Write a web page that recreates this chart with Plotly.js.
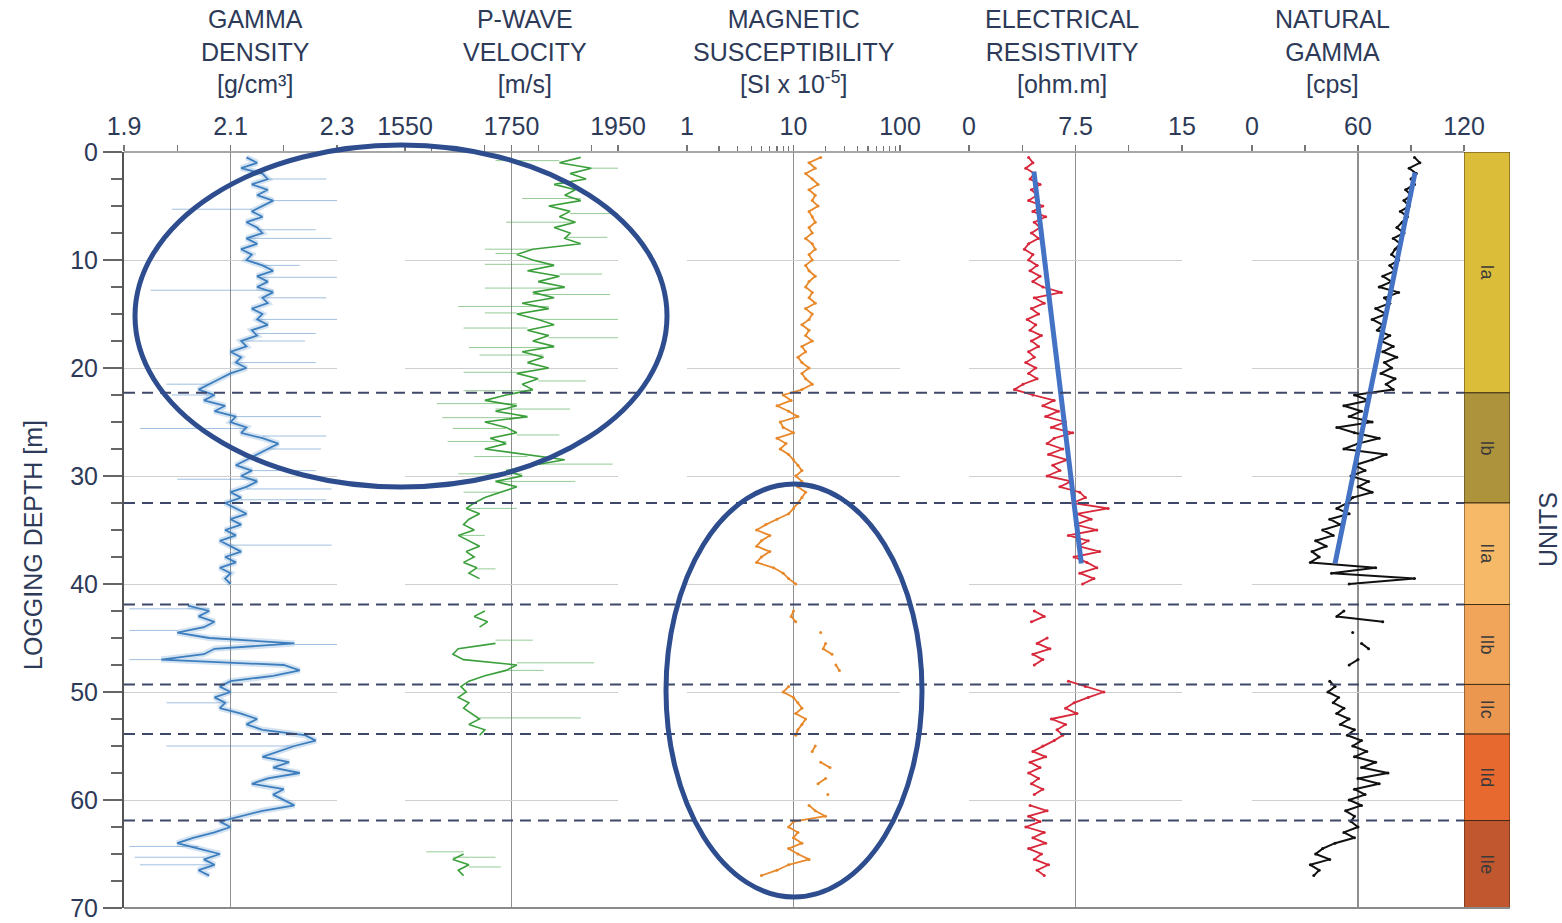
<!DOCTYPE html>
<html><head><meta charset="utf-8">
<script src="https://cdn.plot.ly/plotly-3.0.1.min.js"></script>
<style>html,body{margin:0;padding:0;background:#fff}#chart{width:1562px;height:923px}</style>
</head><body><div id="chart"></div>
<script>
// Depth samples (m)
const depth = [
 0.5,1,1.5,2,2.5,3,3.5,4,4.5,5,
 5.5,6,6.5,7,7.5,8,8.5,9,9.5,10,
 10.5,11,11.5,12,12.5,13,13.5,14,14.5,15,
 15.5,16,16.5,17,17.5,18,18.5,19,19.5,20,
 20.5,21,21.5,22,22.5,23,23.5,24,24.5,25,
 25.5,26,26.5,27,27.5,28,28.5,29,29.5,30,
 30.5,31,31.5,32,32.5,33,33.5,34,34.5,35,
 35.5,36,36.5,37,37.5,38,38.5,39,39.5,40,
 40.5,41,41.5,42,42.5,43,43.5,44,44.5,45,
 45.5,46,46.5,47,47.5,48,48.5,49,49.5,50,
 50.5,51,51.5,52,52.5,53,53.5,54,54.5,55,
 55.5,56,56.5,57,57.5,58,58.5,59,59.5,60,
 60.5,61,61.5,62,62.5,63,63.5,64,64.5,65,
 65.5,66,66.5,67,67.5];

// Gamma density [g/cm3]
const gammaDensity = [
 2.13,2.15,2.12,2.16,2.17,2.14,2.17,2.15,2.18,2.16,
 2.14,2.16,2.13,2.15,2.16,2.13,2.15,2.12,2.14,2.13,
 2.16,2.18,2.15,2.17,2.15,2.18,2.16,2.17,2.14,2.16,
 2.15,2.17,2.14,2.15,2.12,2.13,2.10,2.12,2.11,2.13,
 2.10,2.08,2.06,2.04,2.07,2.05,2.09,2.07,2.11,2.10,
 2.13,2.12,2.16,2.19,2.17,2.15,2.13,2.11,2.14,2.12,
 2.15,2.13,2.10,2.12,2.09,2.11,2.13,2.10,2.12,2.09,
 2.11,2.08,2.10,2.12,2.09,2.11,2.08,2.10,2.09,2.10,
 null,null,null,2.02,2.06,2.04,2.07,2.05,2.00,2.06,
 2.22,2.07,2.05,1.97,2.20,2.23,2.18,2.10,2.08,2.10,
 2.07,2.09,2.08,2.12,2.15,2.13,2.16,2.24,2.26,2.22,
 2.19,2.16,2.21,2.18,2.23,2.17,2.14,2.20,2.18,2.20,
 2.22,2.16,2.12,2.08,2.10,2.07,2.03,2.00,2.04,2.08,
 2.05,2.07,2.04,2.06,null];
const gdSpikeDepth = [2.5,4.5,5.3,7.2,8.0,10.5,11.6,12.8,13.5,15.5,16.8,17.5,19.5,21.5,22.5,24.5,25.6,26.3,27.5,29.5,30.3,31.2,32.2,36.4,42.3,44.3,45.6,47.0,51.0,55.0,64.3,65.3,66.0];
const gdSpikeVal   = [2.28,2.30,1.99,2.26,2.29,2.23,2.30,1.95,2.28,2.30,2.26,2.24,2.26,1.98,1.99,2.27,1.93,2.28,2.27,2.26,2.00,2.29,2.28,2.29,1.91,1.91,2.30,1.91,1.98,1.98,1.91,1.92,1.93];

// P-wave velocity [m/s]
const pWave = [
 1880,1840,1900,1860,1890,1830,1870,1850,1880,1820,
 1860,1840,1870,1830,1860,1850,1880,1790,1760,1790,
 1830,1780,1840,1800,1850,1790,1830,1770,1820,1760,
 1800,1830,1780,1820,1790,1830,1770,1810,1780,1820,
 1760,1800,1770,1790,1740,1700,1760,1720,1780,1700,
 1740,1760,1710,1740,1700,1780,1850,1790,1740,1770,
 1720,1760,1730,1700,1680,1665,1690,1670,1660,1680,
 1650,1670,1690,1665,1680,1660,1685,1670,1690,null,
 null,null,null,null,1700,1680,1705,1690,null,null,
 1720,1650,1640,1660,1760,1740,1700,1670,1655,1665,
 1650,1670,1660,1675,1690,1670,1700,1690,null,null,
 null,null,null,null,null,null,null,null,null,null,
 null,null,null,null,null,null,null,null,null,1660,
 1640,1670,1650,1660,null];
const pwSpikeDepth = [0.8,1.5,4.3,5.7,6.5,7.9,9.0,9.4,10.4,11.3,12.6,13.2,14.3,14.9,15.5,16.3,17.2,18.1,18.8,20.4,21.2,22.1,23.3,23.8,24.6,25.6,26.2,26.8,28.2,28.9,29.8,30.5,31.5,33.0,35.5,38.6,45.2,47.3,48.0,52.4,64.8,65.3,66.2];
const pwSpikeVal   = [1720,1950,1770,1950,1740,1930,1700,1720,1700,1920,1700,1935,1650,1700,1950,1660,1950,1670,1690,1660,1890,1660,1610,1860,1620,1640,1840,1630,1680,1940,1650,1870,1660,1760,1700,1720,1790,1905,1810,1880,1590,1720,1730];

// Magnetic susceptibility [SI x 10^-5]
const magSus = [
 18,14,16,13,15,17,14,16,15,17,
 14,15,16,14,15,13,15,16,14,15,
 13,14,16,14,13,15,14,16,13,15,
 14,12,14,13,15,12,13,11,12,14,
 12,13,15,12,8,9.5,7,9,11,7.5,
 8,10,7,8.5,7.5,9,10,11,12,10.5,
 12,11,13,12,11,10,9,7,5.5,4.5,
 6,5,4.5,6,5,4.5,6.5,8,9,10.5,
 null,null,null,null,10,9.5,10.5,null,18,null,
 20,19,23,null,25,27,null,null,9,8,
 10,11,12,10.5,13,12,11,10.5,null,16,
 15,null,18,22,null,20,17,null,21,null,
 14,16,20,10,9,11,10,12,9,11,
 14,9,7,5,null];

// Electrical resistivity [ohm.m]
const resistivity = [
 4.2,4.5,4.0,4.6,4.3,5.0,4.4,4.8,4.2,5.2,
 4.5,5.4,4.6,5.0,4.4,4.9,4.2,3.9,4.5,4.2,
 4.8,4.3,5.0,4.5,5.2,6.5,4.6,5.3,4.4,4.9,
 4.1,4.7,4.3,5.1,4.4,4.9,4.2,4.6,4.0,4.7,
 4.2,4.8,3.8,3.2,4.5,6.0,5.2,6.3,5.4,6.8,
 5.8,7.3,6.0,5.5,6.6,5.6,6.9,5.9,6.4,5.5,
 7.2,6.4,7.8,8.2,7.3,9.8,7.6,8.6,7.5,9.0,
 7.0,8.4,7.7,9.2,7.4,8.3,9.0,7.8,8.8,8.0,
 null,null,null,null,4.6,5.3,4.4,null,null,5.5,
 4.8,5.7,4.5,5.2,4.6,null,null,7.0,8.2,9.5,
 8.4,7.4,6.8,7.6,5.8,6.8,6.2,6.6,6.0,5.2,
 4.5,5.4,4.3,5.0,4.2,4.9,4.4,5.2,4.6,null,
 4.3,5.5,4.2,5.0,4.0,5.3,4.5,5.4,4.2,5.1,
 4.6,5.6,4.8,5.3,null];

// Natural gamma [cps]
const naturalGamma = [
 92,95,89,93,90,92,87,90,86,89,
 84,88,85,82,86,80,84,81,79,83,
 78,81,74,79,72,83,75,78,70,76,
 68,74,71,78,73,80,74,82,75,79,
 73,81,76,80,58,66,52,62,55,68,
 48,58,72,60,52,76,68,58,64,56,
 66,60,68,57,54,48,55,44,50,40,
 46,36,42,34,38,33,70,45,92,55,
 null,null,null,null,52,48,74,null,57,null,
 62,66,null,60,55,null,null,44,47,43,
 49,46,52,48,55,50,58,54,62,57,
 65,58,70,62,77,60,72,58,64,55,
 62,53,58,56,60,52,58,47,40,36,
 44,33,38,35,null];

// Lithological units
const unitNames  = ['Ia','Ib','IIa','IIb','IIc','IId','IIe'];
const unitTop    = [0,22.3,32.5,41.9,49.3,53.9,61.9];
const unitBottom = [22.3,32.5,41.9,49.3,53.9,61.9,70];
const unitColors = ['#dcbd3a','#ad933c','#f6b967','#f0a55b','#ec9750','#e8692f','#c1572f'];

// Trend lines (value, depth) drawn over resistivity and natural gamma
const resTrendVal = [4.57, 7.91], resTrendDepth = [1.8, 38.1];
const ngTrendVal  = [92.3, 47.0], ngTrendDepth  = [1.9, 38.1];

// ---------- build ----------
function spikeSegments(mainVals, sDepth, sVal){
  const xs=[], ys=[];
  sDepth.forEach((d,i)=>{
    let best=null, bd=1e9;
    depth.forEach((dd,j)=>{ if(mainVals[j]!=null && Math.abs(dd-d)<bd){bd=Math.abs(dd-d);best=mainVals[j];} });
    xs.push(best, sVal[i], null); ys.push(d, d, null);
  });
  return {xs, ys};
}
const gdS = spikeSegments(gammaDensity, gdSpikeDepth, gdSpikeVal);
const pwS = spikeSegments(pWave, pwSpikeDepth, pwSpikeVal);

const GD='#3d7ebf', PW='#3b9f3b', MS='#e8892b', RS='#d8283b', NG='#111111';
const traces = [
 {x:gammaDensity, y:depth, xaxis:'x', yaxis:'y', mode:'lines', line:{color:'rgba(61,126,191,0.22)', width:6}, connectgaps:false},
 {x:gdS.xs, y:gdS.ys, xaxis:'x', yaxis:'y', mode:'lines', line:{color:'rgba(61,126,191,0.55)', width:0.9}},
 {x:gammaDensity, y:depth, xaxis:'x', yaxis:'y', mode:'lines', line:{color:GD, width:1.8}},
 {x:pwS.xs, y:pwS.ys, xaxis:'x2', yaxis:'y', mode:'lines', line:{color:'rgba(59,159,59,0.6)', width:0.9}},
 {x:pWave, y:depth, xaxis:'x2', yaxis:'y', mode:'lines', line:{color:PW, width:1.6}},
 {x:magSus, y:depth, xaxis:'x3', yaxis:'y', mode:'lines+markers', line:{color:MS, width:1.8}, marker:{color:MS, size:3}},
 {x:resistivity, y:depth, xaxis:'x4', yaxis:'y', mode:'lines+markers', line:{color:RS, width:1.8}, marker:{color:RS, size:3}},
 {x:naturalGamma, y:depth, xaxis:'x5', yaxis:'y', mode:'lines+markers', line:{color:NG, width:2}, marker:{color:NG, size:3}},
 {type:'bar', x:unitNames.map(()=>0), y:unitTop.map((t,i)=>unitBottom[i]-t), base:unitTop,
  xaxis:'x6', yaxis:'y', width:1, marker:{color:unitColors, line:{color:'rgba(50,35,15,0.85)', width:1}},
  text:unitNames, textposition:'inside', insidetextanchor:'middle', textangle:90,
  textfont:{color:'#3a3a3a', size:18, family:'Liberation Sans, Arial, sans-serif'}, constraintext:'none'},
 {x:resTrendVal, y:resTrendDepth, xaxis:'x4', yaxis:'y', mode:'lines', line:{color:'#4472c4', width:5}},
 {x:ngTrendVal, y:ngTrendDepth, xaxis:'x5', yaxis:'y', mode:'lines', line:{color:'#4472c4', width:5}}
];

const FONT='Liberation Sans, Arial, sans-serif', TXT='#2d3a58';
const W=1386, L=124;
const px = v => (v-L)/W;
function xax(d0,d1,extra){
  return Object.assign({domain:[px(d0),px(d1)], side:'top', anchor:'y', showgrid:true, gridcolor:'#8f8f8f', gridwidth:1.5,
    zeroline:false, showline:false, ticks:'outside', ticklen:6, tickcolor:'#777', tickwidth:1.2,
    tickfont:{size:25, color:TXT, family:FONT}, fixedrange:true}, extra);
}
const layout = {
  width:1562, height:923, margin:{l:124, r:52, t:152, b:15},
  paper_bgcolor:'#fff', plot_bgcolor:'#fff', showlegend:false, hovermode:false, barmode:'overlay',
  font:{family:FONT, color:TXT},
  xaxis:  xax(124,337,{range:[1.9,2.3], tickmode:'linear', tick0:1.9, dtick:0.2, tickformat:'.1f', minor:{dtick:0.1, ticklen:6, tickcolor:'#777', showgrid:false}}),
  xaxis2: xax(405,618,{range:[1550,1950], tickmode:'linear', tick0:1550, dtick:200, minor:{dtick:100, ticklen:6, tickcolor:'#777', showgrid:false}}),
  xaxis3: xax(687,900,{type:'log', range:[0,2], dtick:1, minor:{dtick:'D1', ticklen:5, tickcolor:'#777', showgrid:false}}),
  xaxis4: xax(969,1182,{range:[0,15], tickmode:'linear', tick0:0, dtick:7.5, minor:{dtick:3.75, ticklen:6, tickcolor:'#777', showgrid:false}}),
  xaxis5: xax(1252,1464,{range:[0,120], tickmode:'linear', tick0:0, dtick:60, minor:{dtick:30, ticklen:6, tickcolor:'#777', showgrid:false}}),
  xaxis6: {domain:[px(1464),1], anchor:'y', range:[-0.5,0.5], showgrid:false, zeroline:false, showticklabels:false, ticks:'', fixedrange:true},
  yaxis: {range:[70,0], dtick:10, tick0:0, showgrid:true, gridcolor:'#cfcfcf', gridwidth:1, zeroline:false,
    showline:true, linecolor:'#555', linewidth:2, ticks:'outside', ticklen:19, tickcolor:'#666', tickwidth:1.3,
    minor:{dtick:2.5, ticklen:11, tickcolor:'#666', ticks:'outside', showgrid:false},
    tickfont:{size:25, color:TXT, family:FONT}, fixedrange:true},
  shapes:[], annotations:[]
};

// continuous top / bottom frame lines
layout.shapes.push({type:'line', xref:'paper', yref:'paper', x0:0, x1:px(1464), y0:1, y1:1, line:{color:'#8a8a8a', width:1.5}, layer:'below'});
layout.shapes.push({type:'line', xref:'paper', yref:'paper', x0:0, x1:1, y0:0, y1:0, line:{color:'#8a8a8a', width:2}, layer:'above'});
// unit boundary dashed lines
unitTop.slice(1).forEach(d=>{
  layout.shapes.push({type:'line', xref:'paper', yref:'y', x0:0, x1:px(1464), y0:d, y1:d, line:{color:'#3f4868', width:2, dash:'11px,7px'}});
});
// highlight ellipses
layout.shapes.push({type:'circle', xref:'paper', yref:'paper', x0:px(135), x1:px(667), y0:(908-487)/756, y1:(908-145)/756, line:{color:'#2e4d8e', width:5}});
layout.shapes.push({type:'circle', xref:'paper', yref:'paper', x0:px(666), x1:px(922), y0:(908-897)/756, y1:(908-484)/756, line:{color:'#2e4d8e', width:5}});

// panel titles
const titles = [
  ['GAMMA<br>DENSITY<br>[g/cm³]',255],
  ['P-WAVE<br>VELOCITY<br>[m/s]',525],
  ['MAGNETIC<br>SUSCEPTIBILITY<br>[SI x 10<sup>-5</sup>]',794],
  ['ELECTRICAL<br>RESISTIVITY<br>[ohm.m]',1062],
  ['NATURAL<br>GAMMA<br>[cps]',1332]
];
titles.forEach(([t,cx])=>{
  layout.annotations.push({text:t, xref:'paper', yref:'paper', x:px(cx), y:(908-51)/756, xanchor:'center', yanchor:'middle',
    showarrow:false, font:{size:25, color:TXT, family:FONT}, align:'center'});
});
layout.annotations.push({text:'LOGGING DEPTH [m]', xref:'paper', yref:'paper', x:px(33), y:(908-545)/756, textangle:-90,
  xanchor:'center', yanchor:'middle', showarrow:false, font:{size:25, color:TXT, family:FONT}});
layout.annotations.push({text:'UNITS', xref:'paper', yref:'paper', x:px(1548), y:(908-530)/756, textangle:-90,
  xanchor:'center', yanchor:'middle', showarrow:false, font:{size:25, color:TXT, family:FONT}});

Plotly.newPlot('chart', traces, layout, {displayModeBar:false, staticPlot:true});
</script></body></html>
